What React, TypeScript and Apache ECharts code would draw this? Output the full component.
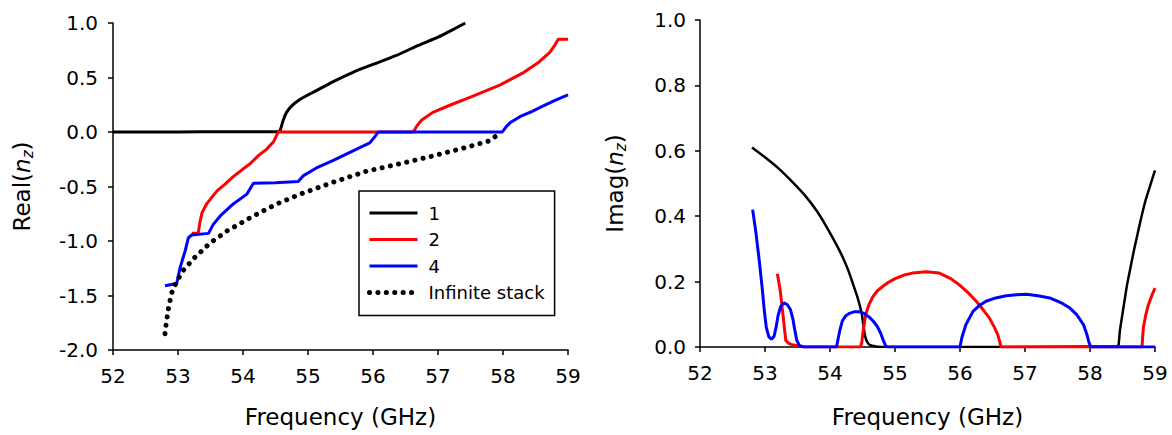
import React, { useEffect, useRef } from 'react';
import * as echarts from 'echarts';

const FONT = '"DejaVu Sans", Verdana, sans-serif';

const seriesNames = ['1', '2', '4', 'Infinite stack'];
const freqMin = 52;
const freqMax = 59;

// Left panel: Real(n_z)
const real1: [number, number][] = [
  [52.0, 0], [53.0, 0], [53.7, 0.003], [54.0, 0.003], [54.55, 0.003], [54.58, 0.03], [54.62, 0.11],
  [54.67, 0.18], [54.75, 0.24], [54.88, 0.3], [55.0, 0.34], [55.1, 0.37], [55.38, 0.46],
  [55.7, 0.55], [56.0, 0.62], [56.35, 0.7], [56.68, 0.79], [57.0, 0.87], [57.2, 0.93], [57.42, 1.0],
];
const real2: [number, number][] = [
  [53.21, -0.93], [53.31, -0.93], [53.34, -0.82], [53.37, -0.74], [53.44, -0.66], [53.52, -0.6],
  [53.6, -0.54], [53.72, -0.48], [53.85, -0.41], [54.0, -0.34], [54.11, -0.29], [54.25, -0.21],
  [54.36, -0.16], [54.42, -0.12], [54.47, -0.09], [54.51, -0.04], [54.54, 0], [55.5, 0], [56.62, 0],
  [56.68, 0.06], [56.75, 0.11], [56.92, 0.18], [57.2, 0.25], [57.5, 0.32], [57.95, 0.43],
  [58.3, 0.54], [58.55, 0.64], [58.72, 0.73], [58.8, 0.8], [58.85, 0.85], [59.0, 0.85],
];
const real4: [number, number][] = [
  [52.8, -1.41], [52.98, -1.39], [53.03, -1.25], [53.11, -1.09], [53.16, -0.97], [53.21, -0.945],
  [53.47, -0.93], [53.54, -0.85], [53.65, -0.77], [53.85, -0.66], [54.06, -0.57], [54.1, -0.53],
  [54.16, -0.47], [54.5, -0.465], [54.85, -0.455], [54.93, -0.4], [55.13, -0.33], [55.39, -0.26],
  [55.7, -0.17], [55.95, -0.1], [56.02, -0.05], [56.08, 0], [57.0, 0], [57.99, 0], [58.05, 0.05],
  [58.12, 0.09], [58.26, 0.14], [58.45, 0.19], [58.62, 0.24], [58.8, 0.29], [59.0, 0.34],
];
const realInf: [number, number][] = [
  [52.8, -1.85], [52.82, -1.75], [52.85, -1.63], [52.9, -1.48], [52.98, -1.37], [53.08, -1.27],
  [53.26, -1.15], [53.49, -1.02], [53.75, -0.91], [54.13, -0.78], [54.52, -0.66], [54.88, -0.57],
  [55.39, -0.46], [55.9, -0.36], [56.42, -0.29], [56.92, -0.22], [57.44, -0.14], [57.8, -0.08],
  [57.95, -0.01],
];

// Right panel: Imag(n_z)
const imag1: [number, number][] = [
  [52.8, 0.61], [53.0, 0.58], [53.22, 0.544], [53.42, 0.505], [53.63, 0.46], [53.8, 0.415],
  [53.94, 0.37], [54.08, 0.32], [54.19, 0.277], [54.28, 0.235], [54.35, 0.195], [54.41, 0.16],
  [54.45, 0.133], [54.49, 0.1], [54.51, 0.072], [54.53, 0.045], [54.55, 0.026], [54.59, 0.01],
  [54.65, 0.004], [54.8, 0.0], [56.7, 0], [58.42, 0.002], [58.44, 0.007], [58.46, 0.05],
  [58.49, 0.089], [58.53, 0.14], [58.57, 0.19], [58.62, 0.24], [58.67, 0.29], [58.72, 0.335],
  [58.77, 0.38], [58.85, 0.445], [58.92, 0.49], [59.0, 0.54],
];
const imag2: [number, number][] = [
  [53.19, 0.224], [53.22, 0.19], [53.24, 0.164], [53.26, 0.128], [53.28, 0.092], [53.3, 0.055],
  [53.32, 0.02], [53.36, 0.012], [53.4, 0.008], [53.5, 0.004], [53.6, 0], [54.47, 0],
  [54.49, 0.015], [54.51, 0.05], [54.55, 0.1], [54.6, 0.13], [54.66, 0.154], [54.73, 0.172],
  [54.81, 0.185], [54.9, 0.198], [55.01, 0.21], [55.14, 0.22], [55.27, 0.226], [55.48, 0.23],
  [55.68, 0.226], [55.85, 0.21], [55.99, 0.19], [56.12, 0.167], [56.25, 0.14], [56.36, 0.113],
  [56.45, 0.089], [56.53, 0.06], [56.58, 0.038], [56.61, 0.018], [56.63, 0], [58.8, 0],
  [58.82, 0.058], [58.86, 0.1], [58.9, 0.13], [58.95, 0.157], [59.0, 0.18],
];
const imag4: [number, number][] = [
  [52.81, 0.42], [52.86, 0.35], [52.91, 0.267], [52.96, 0.174], [52.99, 0.11], [53.02, 0.06],
  [53.06, 0.031], [53.1, 0.024], [53.14, 0.033], [53.17, 0.06], [53.2, 0.095], [53.24, 0.123],
  [53.29, 0.135], [53.34, 0.13], [53.39, 0.115], [53.43, 0.085], [53.46, 0.05], [53.49, 0.02],
  [53.53, 0.004], [53.6, 0], [54.1, 0], [54.12, 0.02], [54.15, 0.05], [54.19, 0.08],
  [54.24, 0.095], [54.3, 0.103], [54.38, 0.108], [54.45, 0.108], [54.53, 0.102], [54.6, 0.092],
  [54.67, 0.078], [54.73, 0.062], [54.78, 0.042], [54.82, 0.02], [54.86, 0.002], [54.9, 0],
  [56.0, 0], [56.03, 0.03], [56.09, 0.068], [56.2, 0.109], [56.3, 0.127], [56.4, 0.14],
  [56.55, 0.15], [56.71, 0.157], [56.87, 0.16], [57.02, 0.161], [57.2, 0.157], [57.38, 0.15],
  [57.55, 0.136], [57.69, 0.119], [57.8, 0.098], [57.9, 0.068], [57.95, 0.04], [57.98, 0.017],
  [58.01, 0], [59.0, 0],
];

const colors = ['#000000', '#ff0000', '#0000ff', '#000000'];

const axisLine = { onZero: false, lineStyle: { color: '#000', width: 1.5 } };
const axisTick = { show: true, inside: false, length: 5, lineStyle: { color: '#000', width: 1.5 } };
const tickLabel = { color: '#000', fontSize: 20, fontFamily: FONT };

const yName = (main: string) => `{a|${main}(}{i|n}{s|z}{a|)}`;
const yNameStyle = {
  rich: {
    a: { fontSize: 23, fontFamily: FONT, color: '#000', lineHeight: 26 },
    i: { fontSize: 23, fontFamily: FONT, color: '#000', lineHeight: 26, fontStyle: 'italic' },
    s: { fontSize: 15, fontFamily: FONT, color: '#000', lineHeight: 13, fontStyle: 'italic', verticalAlign: 'bottom' },
  },
};

const xAxisBase = (gridIndex: number, nameGap: number) => ({
  type: 'value',
  gridIndex,
  min: freqMin,
  max: freqMax,
  interval: 1,
  axisLine,
  axisTick,
  splitLine: { show: false },
  axisLabel: { ...tickLabel, margin: 16 },
  name: 'Frequency (GHz)',
  nameLocation: 'middle',
  nameGap,
  nameTextStyle: { fontSize: 23, fontFamily: FONT, color: '#000' },
});

const lineSeries = (name: string, data: [number, number][], idx: number, color: string, width: number, extra: any = {}, smooth: any = false) => ({
  type: 'line',
  name,
  data,
  xAxisIndex: idx,
  yAxisIndex: idx,
  symbol: 'none',
  showSymbol: false,
  smooth,
  lineStyle: { color, width, ...extra },
  itemStyle: { color },
  emphasis: { disabled: true },
});

export default function App() {
  const ref = useRef<HTMLDivElement>(null);
  useEffect(() => {
    const chart = echarts.init(ref.current!, null, { renderer: 'svg' });
    chart.setOption({
      animation: false,
      backgroundColor: '#ffffff',
      textStyle: { fontFamily: FONT },
      grid: [
        { left: 113, top: 23, width: 455, height: 327 },
        { left: 700, top: 20, width: 455, height: 327 },
      ],
      xAxis: [xAxisBase(0, 55), xAxisBase(1, 58)],
      yAxis: [
        {
          type: 'value', gridIndex: 0, min: -2, max: 1, interval: 0.5,
          axisLine, axisTick, splitLine: { show: false },
          axisLabel: { ...tickLabel, margin: 15, formatter: (v: number) => v.toFixed(1) },
          name: yName('Real'), nameLocation: 'middle', nameRotate: 90, nameGap: 78,
          nameTextStyle: yNameStyle,
        },
        {
          type: 'value', gridIndex: 1, min: 0, max: 1, interval: 0.2,
          axisLine, axisTick, splitLine: { show: false },
          axisLabel: { ...tickLabel, margin: 14, formatter: (v: number) => v.toFixed(1) },
          name: yName('Imag'), nameLocation: 'middle', nameRotate: 90, nameGap: 72,
          nameTextStyle: yNameStyle,
        },
      ],
      legend: {
        data: seriesNames,
        orient: 'vertical',
        left: 359,
        top: 191,
        itemWidth: 48,
        itemHeight: 14,
        itemGap: 8.5,
        padding: [13, 10, 14, 8],
        borderColor: '#000',
        borderWidth: 1.5,
        selectedMode: false,
        itemStyle: { opacity: 0, borderWidth: 0 },
        lineStyle: { width: 'inherit' },
        textStyle: { fontSize: 18, fontFamily: FONT, color: '#000', lineHeight: 18, padding: [0, 0, 0, 6] },
      },
      series: [
        lineSeries(seriesNames[0], real1, 0, colors[0], 3, {}, 0.2),
        lineSeries(seriesNames[1], real2, 0, colors[1], 3),
        lineSeries(seriesNames[2], real4, 0, colors[2], 3),
        lineSeries(seriesNames[3], realInf, 0, colors[3], 5, { type: [0.1, 8.3], cap: 'round' }),
        lineSeries(seriesNames[0], imag1, 1, colors[0], 2.5, {}, 0.2),
        lineSeries(seriesNames[1], imag2, 1, colors[1], 3),
        lineSeries(seriesNames[2], imag4, 1, colors[2], 3),
      ],
    });
    return () => chart.dispose();
  }, []);
  return (
    <div
      ref={ref}
      style={{ position: 'fixed', left: 0, top: 0, width: 1172, height: 435, background: '#fff' }}
    />
  );
}
